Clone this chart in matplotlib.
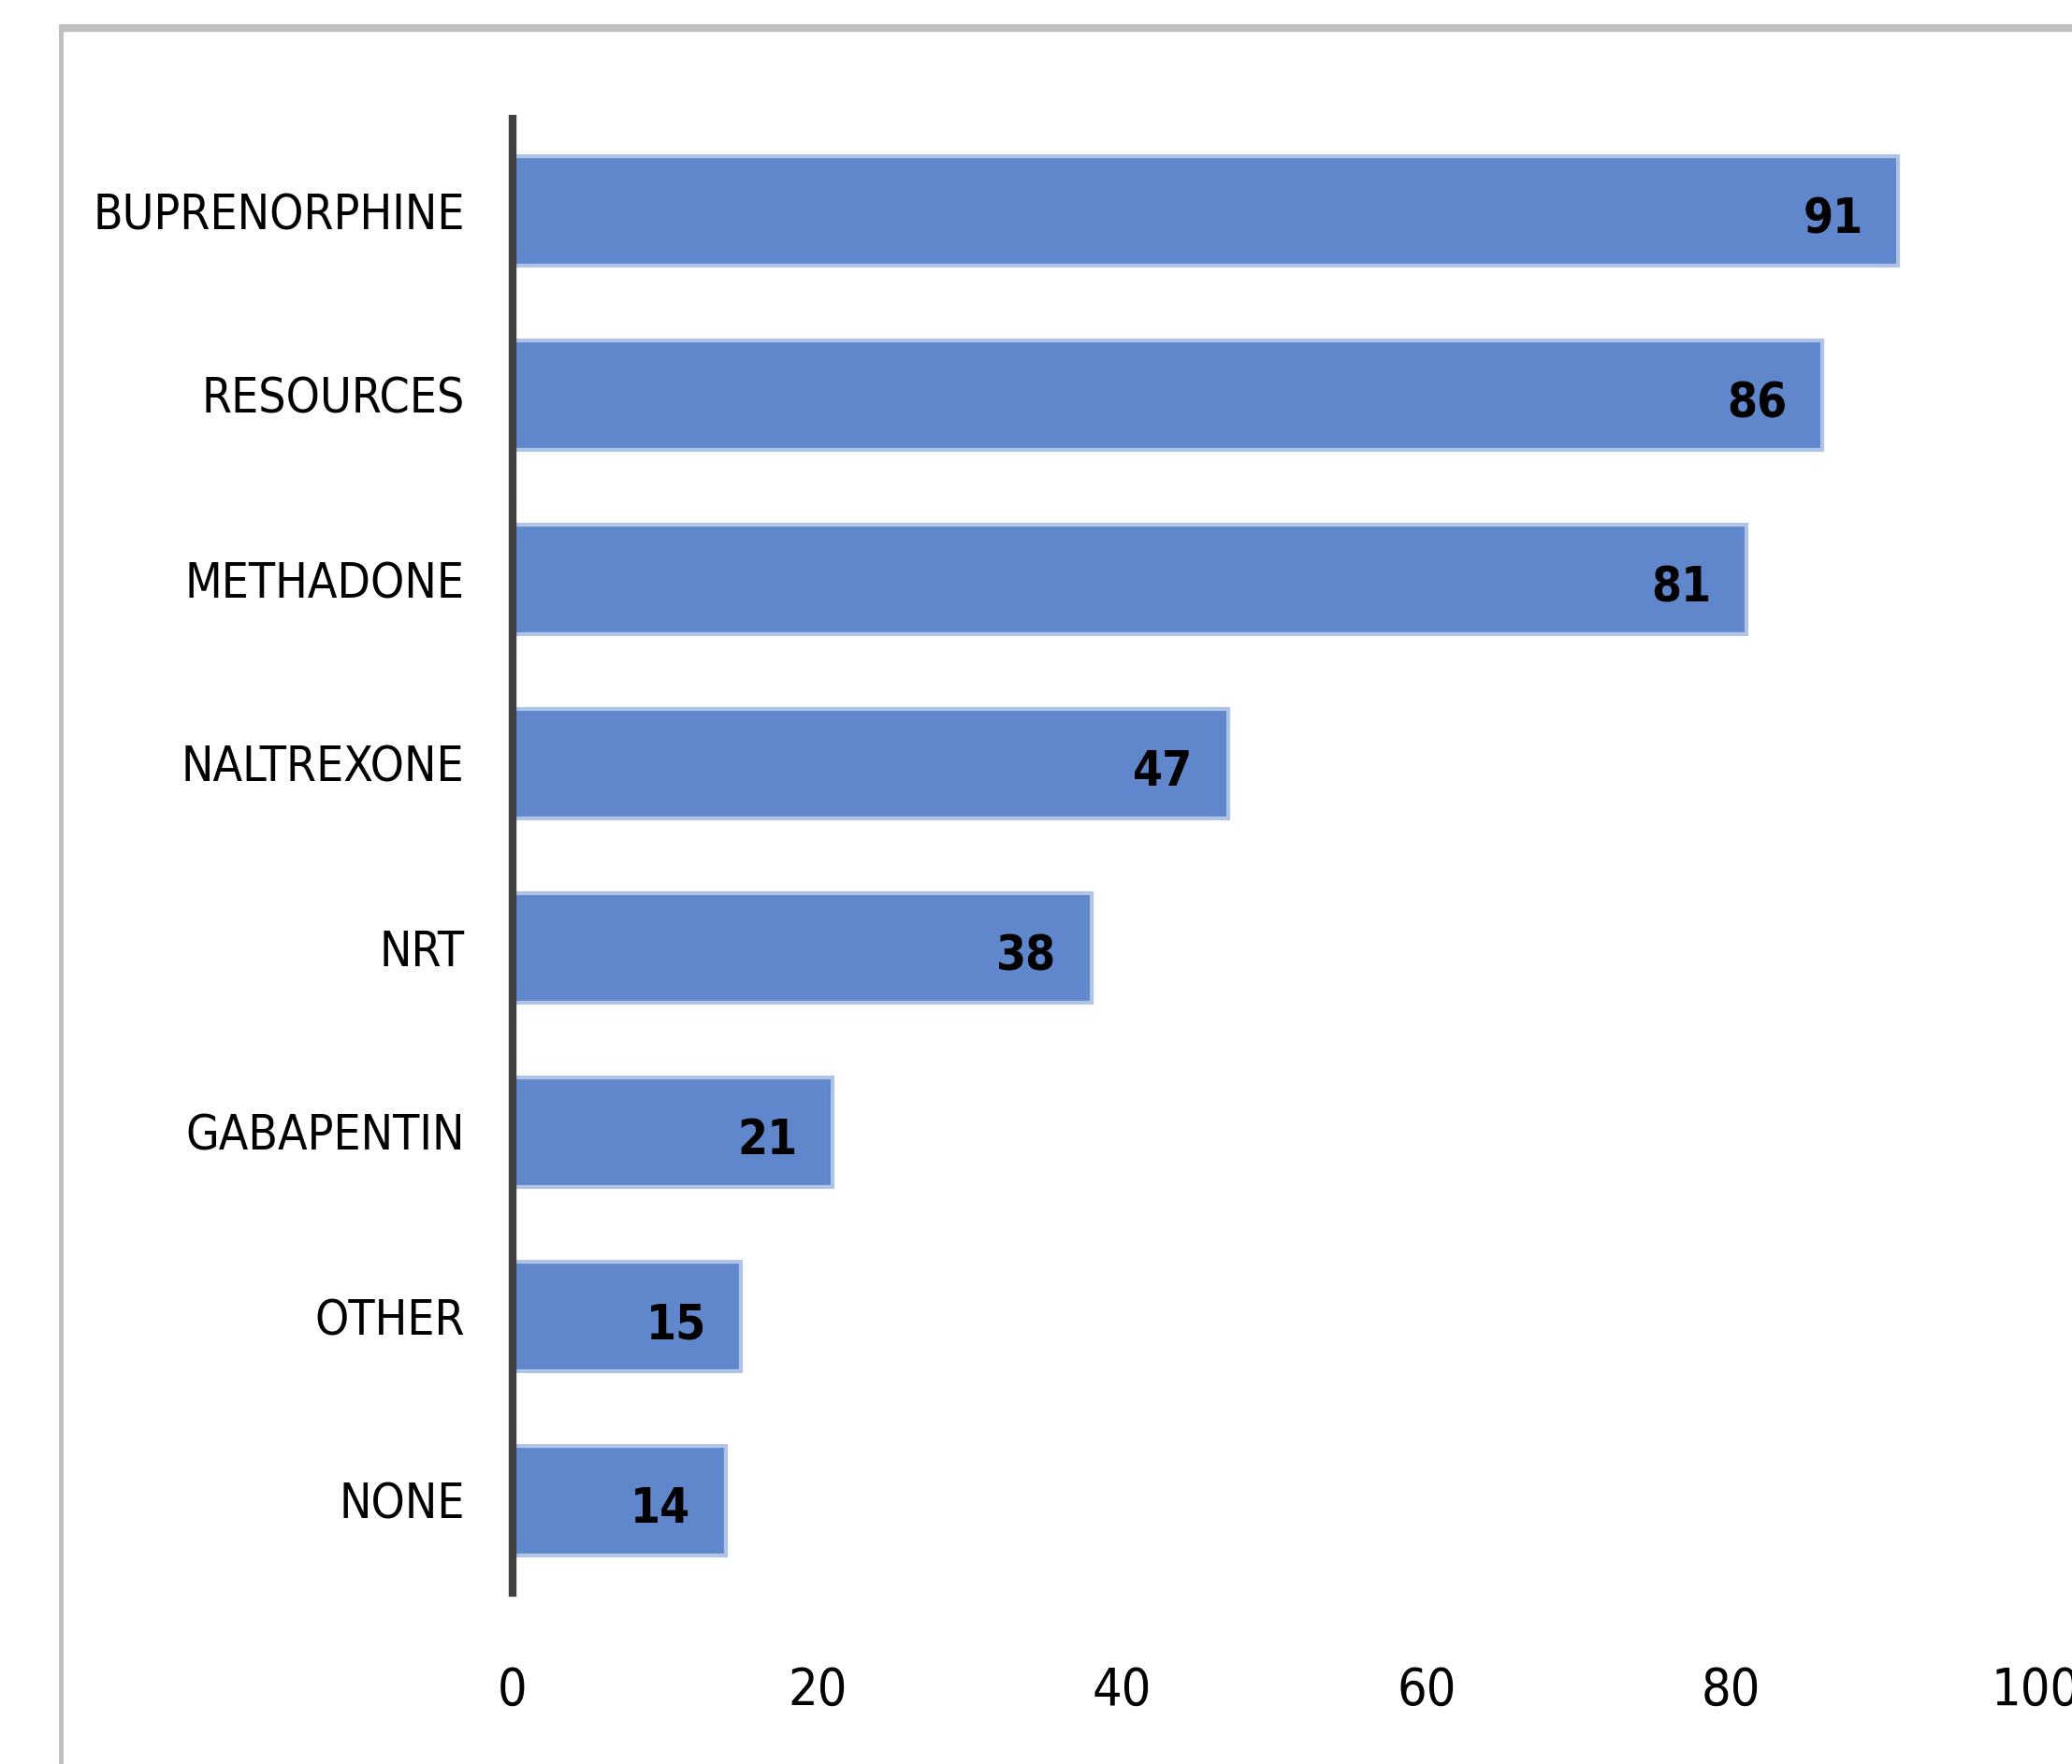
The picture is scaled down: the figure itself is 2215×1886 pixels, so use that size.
import matplotlib
matplotlib.use('Agg')
import matplotlib.pyplot as plt
from matplotlib.lines import Line2D

plt.rcParams['font.family'] = ['DejaVu Sans']
plt.rcParams['font.stretch'] = 'condensed'

categories = ['BUPRENORPHINE', 'RESOURCES', 'METHADONE', 'NALTREXONE',
              'NRT', 'GABAPENTIN', 'OTHER', 'NONE']
values = [91, 86, 81, 47, 38, 21, 15, 14]
x_ticks = [0, 20, 40, 60, 80, 100]

W, H = 2215, 1886
fig = plt.figure(figsize=(W / 100, H / 100), dpi=100)
fig.patch.set_facecolor('white')

# grey chart-area frame, running off the right and bottom of the image
frame_col = '#BFBFBF'
fig.add_artist(Line2D([65 / W, 65 / W], [1 - 27 / H, -0.1], color=frame_col,
                      lw=3.5, transform=fig.transFigure, solid_capstyle='butt'))
fig.add_artist(Line2D([63 / W, 1.1], [1 - 30 / H, 1 - 30 / H], color=frame_col,
                      lw=6, transform=fig.transFigure, solid_capstyle='butt'))

ax = fig.add_axes([548 / W, (H - 1703) / H, 1628 / W, 1576 / H])

bars = ax.barh(categories, values, height=0.59, color='#6087CB',
               edgecolor='#AFC3E7', linewidth=3)

for i, v in enumerate(values):
    ax.annotate(f'{v}', xy=(v, i), xytext=(-27, -7), textcoords='offset points',
                ha='right', va='center', fontsize=37, fontweight='bold',
                color='black')

ax.set_xlim(0, 100)
ax.set_ylim(7.5, -0.5)
ax.set_xticks(x_ticks)
ax.set_xticklabels([str(t) for t in x_ticks])

for side in ['top', 'right', 'bottom']:
    ax.spines[side].set_visible(False)
ax.spines['left'].set_color('#404040')
ax.spines['left'].set_linewidth(6)

ax.tick_params(axis='x', length=0, pad=56, labelsize=40)
ax.tick_params(axis='y', length=0, pad=37, labelsize=37)

fig.savefig('out.png', dpi=100)
